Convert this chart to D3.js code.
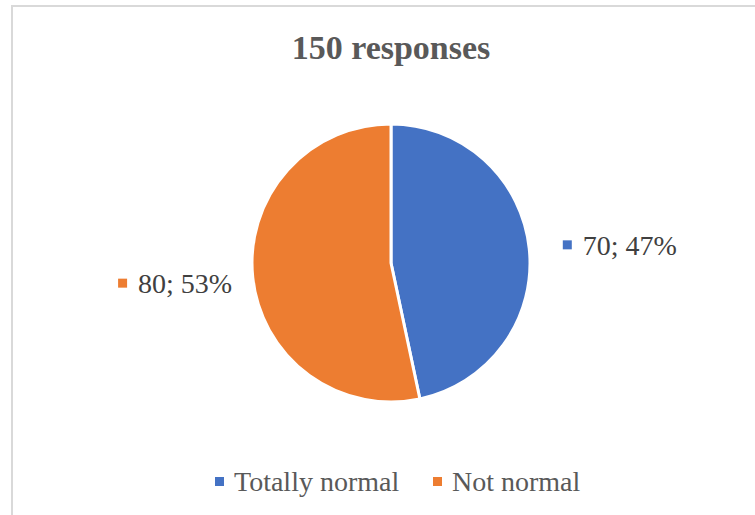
<!DOCTYPE html>
<html><head><meta charset="utf-8">
<script src="https://cdn.jsdelivr.net/npm/d3@7"></script>
<style>html,body{margin:0;padding:0;background:#fff;}
text{font-family:"Liberation Serif","Times New Roman",serif;}</style>
</head><body>
<svg id="chart" width="755" height="515"></svg>
<script>
const title = "150 responses";
const categories = ["Totally normal", "Not normal"];
const values = [70, 80];
const colors = ["#4472C4", "#ED7D31"];

const svg = d3.select("#chart");
const W = 755, H = 515;

// border
svg.append("rect").attr("x", 12).attr("y", 6).attr("width", W).attr("height", H)
  .attr("fill", "#fff").attr("stroke", "#d9d9d9").attr("stroke-width", 2);

svg.append("text").attr("x", 391).attr("y", 59).attr("text-anchor", "middle")
  .attr("font-weight", "bold").attr("font-size", 34)
  .attr("fill", "#595959").text(title);

const cx = 391, cy = 263, r = 139;
const total = d3.sum(values);
const pie = d3.pie().sort(null).value(d => d)(values);
const arc = d3.arc().innerRadius(0).outerRadius(r);
const g = svg.append("g").attr("transform", `translate(${cx},${cy})`);
g.selectAll("path").data(pie).join("path")
  .attr("d", arc).attr("fill", (d, i) => colors[i])
  .attr("stroke", "#fff").attr("stroke-width", 3).attr("stroke-linejoin", "round");

// data labels
const labelArc = d3.arc().innerRadius(r * 1.25).outerRadius(r * 1.25);
const labelG = svg.append("g");
pie.forEach((d, i) => {
  const [lx, ly] = labelArc.centroid(d);
  const right = lx > 0;
  const txt = `${values[i]}; ${Math.round(values[i] / total * 100)}%`;
  const t = labelG.append("text").attr("font-size", 28)
    .attr("fill", "#404040").text(txt);
  const tw = t.node().getComputedTextLength();
  const x0 = right ? cx + lx - 1 : cx + lx + 14 - tw - 20;
  const y0 = cy + ly + (right ? 0 : 2);
  labelG.append("rect").attr("x", x0).attr("y", y0 - 4.5).attr("width", 9).attr("height", 9)
    .attr("fill", colors[i]);
  t.attr("x", x0 + 20).attr("y", y0 + 10);
});

// legend
const legX = [215, 433];
const leg = svg.append("g");
categories.forEach((c, i) => {
  leg.append("rect").attr("x", legX[i]).attr("y", 477).attr("width", 9).attr("height", 9)
    .attr("fill", colors[i]);
  leg.append("text").attr("x", legX[i] + 19).attr("y", 491)
    .attr("font-size", 28).attr("fill", "#595959").text(c);
});
</script>
</body></html>
